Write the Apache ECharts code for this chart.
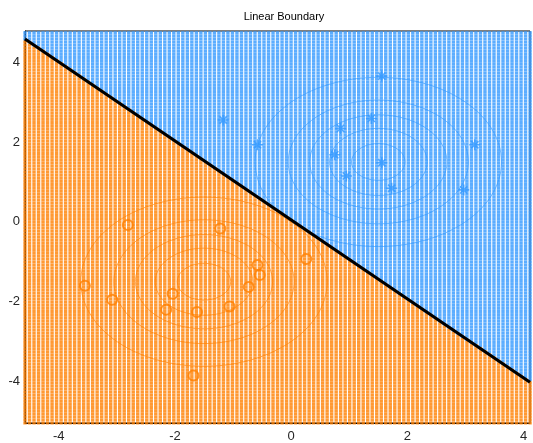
<!DOCTYPE html>
<html>
<head>
<meta charset="utf-8">
<script src="https://cdn.jsdelivr.net/npm/echarts@6/dist/echarts.min.js"></script>
<style>
html,body{margin:0;padding:0;background:#fff;}
#chart{width:533px;height:443px;}
</style>
</head>
<body>
<div id="chart"></div>
<script>
// ---- data ----
const xRange = [-4.58, 4.11];
const yRange = [-5.04, 4.78];
const gridStep = 0.0776;
const boundaryX = [-4.58, 4.11];
const boundaryY = [4.58, -4.02];
const blueMean = [1.5, 1.5];
const orangeMean = [-1.5, -1.5];
const contourRadii = [0.46, 0.84, 1.18, 1.55, 2.12];
const blueX = [1.56, -1.17, -0.58, 0.85, 1.38, 0.75, 1.56, 1.73, 3.16, 2.97, 0.95];
const blueY = [3.65, 2.55, 1.93, 2.34, 2.59, 1.68, 1.48, 0.84, 1.93, 0.80, 1.15];
const orangeX = [-2.81, -1.22, -3.55, -3.08, -2.04, -2.15, -1.62, -1.06, -0.73, -0.58, -0.54, 0.26, -1.68];
const orangeY = [-0.08, -0.17, -1.60, -1.95, -1.80, -2.20, -2.26, -2.12, -1.63, -1.08, -1.33, -0.93, -3.85];
const xTicks = [-4, -2, 0, 2, 4];
const yTicks = [-4, -2, 0, 2, 4];

const BLUE = '#3399ff';
const ORANGE = '#ff8000';
const FONT = 'Liberation Sans, Arial, sans-serif';

// decision grid (meshgrid) classified by the boundary line
const slope = (boundaryY[1] - boundaryY[0]) / (boundaryX[1] - boundaryX[0]);
function boundaryAt(x) { return boundaryY[0] + slope * (x - boundaryX[0]); }
const gridBlue = [], gridOrange = [];
for (let i = -1; xRange[0] + i * gridStep <= xRange[1] + gridStep; i++) {
  const x = xRange[0] + i * gridStep;
  for (let j = -1; yRange[0] + j * gridStep <= yRange[1] + gridStep; j++) {
    const y = yRange[0] + j * gridStep;
    if (y > boundaryAt(x)) gridBlue.push([x, y]); else gridOrange.push([x, y]);
  }
}

function ring(c, r) {
  const pts = [];
  for (let i = 0; i <= 120; i++) {
    const t = i / 120 * Math.PI * 2;
    pts.push([c[0] + r * Math.cos(t), c[1] + r * Math.sin(t)]);
  }
  return pts;
}

const star = 'path://M-0.7,-5L0.7,-5L0.7,5L-0.7,5Z M-5,-0.7L5,-0.7L5,0.7L-5,0.7Z M-3.8,-2.8L-2.8,-3.8L3.8,2.8L2.8,3.8Z M2.8,-3.8L3.8,-2.8L-2.8,3.8L-3.8,2.8Z';

const series = [];
contourRadii.forEach(r => {
  series.push({ type: 'line', data: ring(blueMean, r), showSymbol: false, lineStyle: { color: BLUE, width: 0.8, opacity: 0.8 }, silent: true, z: 1 });
  series.push({ type: 'line', data: ring(orangeMean, r), showSymbol: false, lineStyle: { color: ORANGE, width: 0.8, opacity: 0.8 }, silent: true, z: 1 });
});
series.push({ type: 'scatter', data: gridBlue, symbol: 'rect', symbolSize: [3.4, 3.0], itemStyle: { color: BLUE }, large: true, largeThreshold: 1000, silent: true, z: 2 });
series.push({ type: 'scatter', data: gridOrange, symbol: 'rect', symbolSize: [3.4, 3.0], itemStyle: { color: ORANGE }, large: true, largeThreshold: 1000, silent: true, z: 2 });
series.push({ type: 'scatter', data: blueX.map((x, i) => [x, blueY[i]]), symbol: star, symbolSize: 11, itemStyle: { color: BLUE }, z: 3 });
series.push({ type: 'scatter', data: orangeX.map((x, i) => [x, orangeY[i]]), symbol: 'circle', symbolSize: 10, itemStyle: { color: 'rgba(0,0,0,0)', borderColor: ORANGE, borderWidth: 2 }, z: 3 });
series.push({ type: 'line', data: boundaryX.map((x, i) => [x, boundaryY[i]]), showSymbol: false, lineStyle: { color: '#000', width: 3.2 }, z: 4 });

function tickFmt(list) {
  return v => list.some(t => Math.abs(t - v) < 1e-6) ? String(v) : '';
}

const chart = echarts.init(document.getElementById('chart'), null, { renderer: 'canvas' });
chart.setOption({
  animation: false,
  backgroundColor: '#fff',
  title: { text: 'Linear Boundary', left: 279, top: 6, textAlign: 'center',
    textStyle: { fontFamily: FONT, fontSize: 11, fontWeight: 'normal', color: '#000' } },
  grid: { left: 25, right: 1, top: 31, bottom: 20, show: true, borderColor: '#000', borderWidth: 1, backgroundColor: 'transparent' },
  xAxis: { type: 'value', min: xRange[0], max: xRange[1], splitNumber: 4,
    axisLine: { show: true, onZero: false, lineStyle: { color: '#000' } },
    axisTick: { show: false }, splitLine: { show: false },
    axisLabel: { formatter: tickFmt(xTicks), margin: 7, color: '#262626', fontSize: 13, fontFamily: FONT } },
  yAxis: { type: 'value', min: yRange[0], max: yRange[1], splitNumber: 5,
    axisLine: { show: true, onZero: false, lineStyle: { color: '#000' } },
    axisTick: { show: false }, splitLine: { show: false },
    axisLabel: { formatter: tickFmt(yTicks), margin: 5, color: '#262626', fontSize: 13, fontFamily: FONT } },
  series: series
});
</script>
</body>
</html>
